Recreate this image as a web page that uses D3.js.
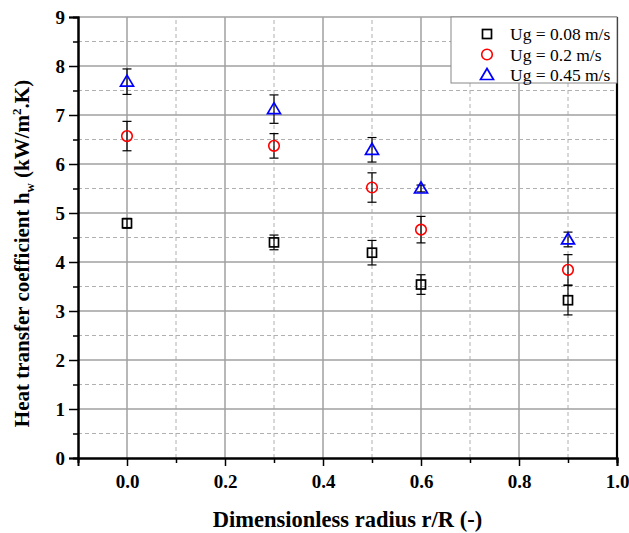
<!DOCTYPE html>
<html>
<head>
<meta charset="utf-8">
<script src="https://cdn.jsdelivr.net/npm/d3@7"></script>
<style>
  body { margin: 0; background: #fff; }
  svg, svg text { font-family: "Liberation Serif", "Times New Roman", serif; }
</style>
</head>
<body>
<svg id="chart" width="629" height="533"></svg>
<script>
const width = 629;
const height = 533;
const margin = {left: 78, right: 12, top: 17, bottom: 75};

// data
const radius = [0.0, 0.3, 0.5, 0.6, 0.9];
const seriesNames = ['Ug = 0.08 m/s', 'Ug = 0.2 m/s', 'Ug = 0.45 m/s'];
const hLow = [4.79, 4.40, 4.19, 3.54, 3.22];
const hLowErr = [0.1, 0.15, 0.25, 0.2, 0.3];
const hMid = [6.57, 6.37, 5.52, 4.66, 3.84];
const hMidErr = [0.3, 0.25, 0.3, 0.27, 0.31];
const hHigh = [7.68, 7.12, 6.29, 5.50, 4.46];
const hHighErr = [0.26, 0.29, 0.25, 0.07, 0.15];
const xTicks = [0.0, 0.2, 0.4, 0.6, 0.8, 1.0];
const xMinor = [0.1, 0.3, 0.5, 0.7, 0.9];
const yTicks = [0, 1, 2, 3, 4, 5, 6, 7, 8, 9];
const yMinor = [0.5, 1.5, 2.5, 3.5, 4.5, 5.5, 6.5, 7.5, 8.5];

const colors = ['#000000', '#ff0000', '#0000ff'];
const shapes = ['square', 'circle', 'triangle'];

const svg = d3.select('#chart');

const x = d3.scaleLinear().domain([-0.1, 1.0]).range([margin.left, width - margin.right]);
const y = d3.scaleLinear().domain([0, 9]).range([height - margin.bottom, margin.top]);

const x0 = margin.left, x1 = width - margin.right;
const y0 = height - margin.bottom, y1 = margin.top;

// grid
const grid = svg.append('g');
grid.selectAll('.gx').data(xTicks.filter(d => d < 1))
  .enter().append('line')
  .attr('x1', d => x(d)).attr('x2', d => x(d))
  .attr('y1', y0).attr('y2', y1)
  .attr('stroke', '#a0a0a0').attr('stroke-width', 1.5);
grid.selectAll('.gxm').data(xMinor)
  .enter().append('line')
  .attr('x1', d => x(d)).attr('x2', d => x(d))
  .attr('y1', y0).attr('y2', y1)
  .attr('stroke', '#b0b0b0').attr('stroke-width', 1)
  .attr('stroke-dasharray', '4,3');
grid.selectAll('.gy').data(yTicks.filter(d => d > 0))
  .enter().append('line')
  .attr('x1', x0).attr('x2', x1)
  .attr('y1', d => y(d)).attr('y2', d => y(d))
  .attr('stroke', '#a0a0a0').attr('stroke-width', 1.5);
grid.selectAll('.gym').data(yMinor)
  .enter().append('line')
  .attr('x1', x0).attr('x2', x1)
  .attr('y1', d => y(d)).attr('y2', d => y(d))
  .attr('stroke', '#b0b0b0').attr('stroke-width', 1)
  .attr('stroke-dasharray', '4,3');

// axes
const xAxis = svg.append('g').attr('transform', `translate(0, ${y0})`)
  .call(d3.axisBottom(x).tickValues(xTicks).tickFormat(d3.format('.1f')).tickSizeOuter(0).tickSize(8));
const xAxisMinor = svg.append('g').attr('transform', `translate(0, ${y0})`)
  .call(d3.axisBottom(x).tickValues(xMinor).tickFormat('').tickSizeOuter(0).tickSize(5));
const yAxis = svg.append('g').attr('transform', `translate(${x0}, 0)`)
  .call(d3.axisLeft(y).tickValues(yTicks).tickSizeOuter(0).tickSize(9));
const yAxisMinor = svg.append('g').attr('transform', `translate(${x0}, 0)`)
  .call(d3.axisLeft(y).tickValues(yMinor).tickFormat('').tickSizeOuter(0).tickSize(5));

[xAxis, xAxisMinor, yAxis, yAxisMinor].forEach(a => {
  a.attr('font-family', null);
  a.select('.domain').attr('stroke', '#000').attr('stroke-width', 2);
  a.selectAll('.tick line').attr('stroke', '#000').attr('stroke-width', 1.5);
  a.selectAll('text')
    .style('font-family', '"Liberation Serif", serif')
    .style('font-weight', 'bold').style('font-size', '19px').attr('fill', '#000');
});
xAxis.selectAll('text').attr('y', 30).attr('dy', 0);
yAxis.selectAll('text').attr('x', -13).attr('dy', '0.34em');

// right frame
svg.append('line').attr('x1', x1).attr('x2', x1).attr('y1', y0 + 1).attr('y2', y1)
  .attr('stroke', '#000').attr('stroke-width', 2.2);

// series
const series = [
  {name: seriesNames[0], values: hLow, err: hLowErr},
  {name: seriesNames[1], values: hMid, err: hMidErr},
  {name: seriesNames[2], values: hHigh, err: hHighErr}
];

function drawMarker(g, shape, color, cx, cy) {
  if (shape === 'square') {
    g.append('rect').attr('x', cx - 4.5).attr('y', cy - 4.5).attr('width', 9).attr('height', 9)
      .attr('fill', 'none').attr('stroke', color).attr('stroke-width', 1.7);
  } else if (shape === 'circle') {
    g.append('circle').attr('cx', cx).attr('cy', cy).attr('r', 5.3)
      .attr('fill', 'none').attr('stroke', color).attr('stroke-width', 1.6);
  } else {
    g.append('path').attr('d', `M${cx},${cy - 6.5} L${cx + 6.5},${cy + 4.5} L${cx - 6.5},${cy + 4.5} Z`)
      .attr('fill', 'none').attr('stroke', color).attr('stroke-width', 1.7);
  }
}

series.forEach((s, i) => {
  const g = svg.append('g');
  s.values.forEach((v, j) => {
    const cx = x(radius[j]);
    const top = y(v + s.err[j]), bot = y(v - s.err[j]);
    g.append('line').attr('x1', cx).attr('x2', cx).attr('y1', top).attr('y2', bot)
      .attr('stroke', '#000').attr('stroke-width', 1.2);
    [top, bot].forEach(yy => g.append('line').attr('x1', cx - 4.5).attr('x2', cx + 4.5)
      .attr('y1', yy).attr('y2', yy).attr('stroke', '#000').attr('stroke-width', 1.2));
  });
  s.values.forEach((v, j) => drawMarker(g, shapes[i], colors[i], x(radius[j]), y(v)));
});

// legend
const legend = svg.append('g');
legend.append('rect').attr('x', 451).attr('y', y1).attr('width', x1 - 451).attr('height', 66)
  .attr('fill', '#fff').attr('stroke', '#888').attr('stroke-width', 1);
series.forEach((s, i) => {
  const ly = 34 + i * 20.5;
  drawMarker(legend, shapes[i], colors[i], 487, ly);
  legend.append('text').attr('x', 510).attr('y', ly + 6)
    .style('font-size', '17.5px').attr('fill', '#000').text(s.name);
});

// axis titles
svg.append('text').attr('x', (x0 + x1) / 2).attr('y', 527)
  .attr('text-anchor', 'middle').style('font-weight', 'bold').style('font-size', '22.5px')
  .text('Dimensionless radius r/R (-)');

const yt = svg.append('text')
  .attr('transform', `translate(29, ${(y0 + y1) / 2 + 16}) rotate(-90)`)
  .attr('text-anchor', 'middle').style('font-weight', 'bold').style('font-size', '21px');
yt.append('tspan').text('Heat transfer coefficient h');
yt.append('tspan').style('font-size', '13px').attr('dy', 5).text('w');
yt.append('tspan').attr('dy', -5).text('  (kW/m');
yt.append('tspan').style('font-size', '13px').attr('dy', -8).text('2');
yt.append('tspan').attr('dy', 8).text('.K)');
</script>
</body>
</html>
